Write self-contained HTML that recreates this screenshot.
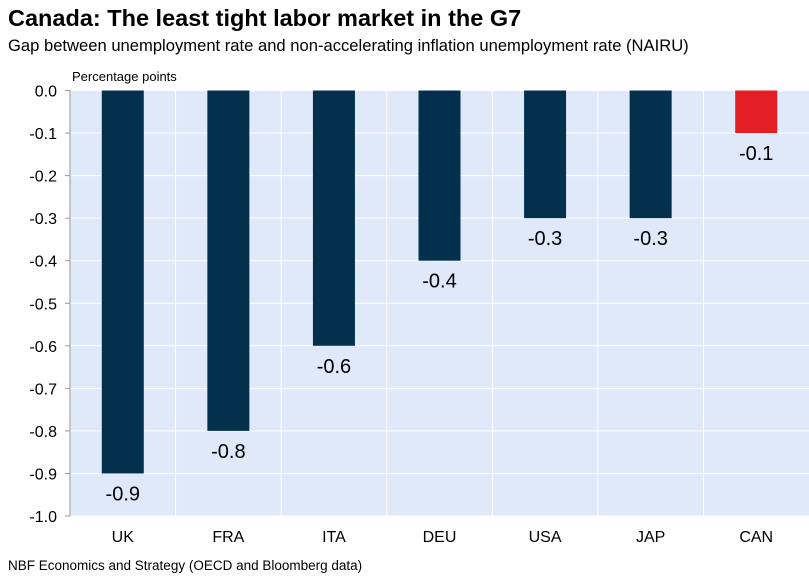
<!DOCTYPE html>
<html><head><meta charset="utf-8"><style>
body{margin:0;background:#fff;width:809px;height:580px;overflow:hidden;font-family:"Liberation Sans",sans-serif}
svg{position:absolute;left:0;top:0}
</style></head><body>
<svg width="809" height="580">
<text x="8" y="26" font-size="23.5" font-weight="bold" fill="#000">Canada: The least tight labor market in the G7</text>
<text x="8" y="51" font-size="16.6" fill="#000">Gap between unemployment rate and non-accelerating inflation unemployment rate (NAIRU)</text>
<text x="72" y="81" font-size="13" fill="#000">Percentage points</text>
<rect x="70" y="90.5" width="739" height="425.5" fill="#dfe9fa"/>
<g id="grid"></g><g id="bars"></g><g id="axes"></g>
<text x="8" y="570" font-size="13.5" fill="#000">NBF Economics and Strategy (OECD and Bloomberg data)</text>
</svg>
<script>
const categories=["UK","FRA","ITA","DEU","USA","JAP","CAN"];
const values=[-0.9,-0.8,-0.6,-0.4,-0.3,-0.3,-0.1];
const barColors=["#03304d","#03304d","#03304d","#03304d","#03304d","#03304d","#e31e24"];
const yTicks=[0,-0.1,-0.2,-0.3,-0.4,-0.5,-0.6,-0.7,-0.8,-0.9,-1.0];
const NS="http://www.w3.org/2000/svg";
const x0=70,x1=809,yTop=90.5,yBot=516;
const y=v=>yTop+(0-v)/1.0*(yBot-yTop);
const bw=(x1-x0)/categories.length;
const xc=i=>x0+bw*(i+0.5);
function mk(t,a,p){const e=document.createElementNS(NS,t);for(const k in a)e.setAttribute(k,a[k]);p.appendChild(e);return e;}
const grid=document.getElementById('grid'),bars=document.getElementById('bars'),axes=document.getElementById('axes');
yTicks.forEach(t=>{
 const l=mk('line',{x1:x0,x2:x1,y1:y(t),y2:y(t),stroke:'#fff','stroke-width':1},grid);
 
 
 const tk=mk('line',{x1:x0-5,x2:x0,y1:y(t),y2:y(t),stroke:'#999'},axes);
 
 
 const tx=mk('text',{x:x0-13,y:y(t)+6,'font-size':16,'text-anchor':'end',fill:'#000'},axes);
 tx.textContent=t.toFixed(1);
 
 
});
for(let i=1;i<categories.length;i++){
 const l=mk('line',{x1:x0+bw*i,x2:x0+bw*i,y1:yTop,y2:yBot,stroke:'#fff','stroke-width':1},grid);
 
 
}
mk('line',{x1:x0,x2:x0,y1:yTop,y2:yBot,stroke:'#999'},axes);
categories.forEach((c,i)=>{
 const v=values[i];
 const r=mk('rect',{x:xc(i)-21,y:y(0),width:42,height:y(v)-y(0),fill:barColors[i]},bars);
 
 
 const lb=mk('text',{x:xc(i),y:y(v)+27,'font-size':20,'text-anchor':'middle',fill:'#000'},bars);
 lb.textContent=v.toFixed(1);
 
 
 const cl=mk('text',{x:xc(i),y:yBot+26,'font-size':16,'text-anchor':'middle',fill:'#000'},axes);
 cl.textContent=c;
 
 
});
</script>
</body></html>
